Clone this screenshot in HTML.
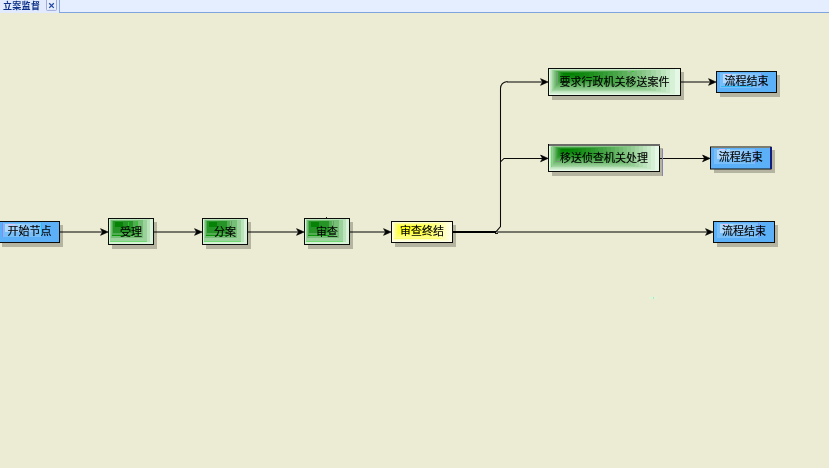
<!DOCTYPE html>
<html lang="zh-CN">
<head>
<meta charset="utf-8">
<title>立案监督</title>
<style>
html,body{margin:0;padding:0;}
body{width:829px;height:468px;overflow:hidden;background:#ececd5;position:relative;
  font-family:"Liberation Sans","Noto Sans CJK SC",sans-serif;}
#tabbar{position:absolute;left:0;top:0;width:829px;height:13px;background:#e1ebfd;}
#tabrest{position:absolute;left:59px;top:0;width:770px;height:13px;background:#e4eefe;
  border-left:1px solid #86a8e4;border-bottom:1px solid #80a4e0;box-sizing:border-box;}
#tabtitle{will-change:transform;position:absolute;left:3px;top:-0.5px;height:12px;line-height:12px;font-size:9px;font-weight:700;letter-spacing:0.3px;color:#0b2f86;white-space:nowrap;}
#tabclose{position:absolute;left:46px;top:0;width:11px;height:12px;}
.node{will-change:transform;position:absolute;box-sizing:border-box;border:1px solid transparent;-webkit-text-stroke:0.15px #000;font-size:11px;font-weight:400;color:#000;text-align:center;white-space:nowrap;
  }
svg{position:absolute;left:0;top:0;}
</style>
</head>
<body>
<div id="tabbar"></div>
<div id="tabrest"></div>
<div id="tabtitle">立案监督</div>
<svg id="tabclose" width="11" height="12" viewBox="0 0 11 12">
  <rect x="0.5" y="-1" width="10" height="11.4" rx="0.8" fill="#e7effd" stroke="#98a4d2" stroke-width="0.9"/>
  <path d="M3.2 3.3L7.8 7.9M7.8 3.3L3.2 7.9" stroke="#2347a5" stroke-width="1.3" fill="none"/>
</svg>

<svg width="829" height="468" viewBox="0 0 829 468" shape-rendering="crispEdges">
  <defs><linearGradient id="bl" x1="0" y1="0" x2="1" y2="0"><stop offset="0" stop-color="#b2d9fc"/><stop offset="0.45" stop-color="#9ccffb"/><stop offset="1" stop-color="#76bef9"/></linearGradient></defs>
  <g fill="#b5b4a1">
    <rect x="2.0" y="224.7" width="61.3" height="22.0"/>
    <rect x="112.0" y="221.7" width="45.3" height="27.0"/>
    <rect x="206.0" y="221.7" width="45.3" height="27.0"/>
    <rect x="308.0" y="221.7" width="45.3" height="27.0"/>
    <rect x="395.0" y="224.7" width="61.3" height="22.0"/>
    <rect x="552.0" y="71.7" width="132.3" height="28.0"/>
    <rect x="552.0" y="147.7" width="111.3" height="28.0"/>
    <rect x="720.0" y="74.7" width="60.3" height="22.0"/>
    <rect x="714.0" y="150.2" width="60.8" height="23.0"/>
    <rect x="717.0" y="224.7" width="61.3" height="22.0"/>
  </g>
  <g fill="none" stroke="#000" stroke-opacity="0.5" stroke-width="2" shape-rendering="auto">
    <path d="M60 232H104"/>
    <path d="M154 232H198"/>
    <path d="M248 232H300"/>
    <path d="M350 232H387"/>
    <path d="M497 232H709"/>
    <path d="M681 82H712"/>
    <path d="M507 82H544"/>
  </g>
  <g fill="none" stroke="#0a0a08" stroke-width="1.05" shape-rendering="auto">
    <path d="M660 158.4H706"/>
    <path d="M495.5 232.3L500.5 226.5V88.5Q500.7 82.3 507.5 81.5"/>
    <path d="M500.5 161.8L504 158.4H544"/>
    <path d="M495 233.4H498"/>
  </g>
  <path d="M453 232H496" fill="none" stroke="#000" stroke-width="2"/>
  <g fill="#000" stroke="#000" stroke-width="0.7" stroke-linejoin="round" shape-rendering="auto">
    <path d="M108.0 232.0l-7.4-3.3l2 3.3l-2 3.3z"/>
    <path d="M202.0 232.0l-7.4-3.3l2 3.3l-2 3.3z"/>
    <path d="M304.0 232.0l-7.4-3.3l2 3.3l-2 3.3z"/>
    <path d="M391.0 232.0l-7.4-3.3l2 3.3l-2 3.3z"/>
    <path d="M713.0 232.0l-7.4-3.3l2 3.3l-2 3.3z"/>
    <path d="M716.0 82.0l-7.4-3.3l2 3.3l-2 3.3z"/>
    <path d="M710.0 158.4l-7.4-3.3l2 3.3l-2 3.3z"/>
    <path d="M548.0 82.0l-7.4-3.3l2 3.3l-2 3.3z"/>
    <path d="M548.0 158.4l-7.4-3.3l2 3.3l-2 3.3z"/>
  </g>
  <g>
    <rect x="326" y="216.6" width="1" height="1.6" fill="#222"/>
    <rect x="649" y="297" width="8" height="2" fill="#e0f4dc"/><rect x="653" y="297" width="1" height="2.4" fill="#a8ecb0"/>
    <g><rect x="-1.0" y="222.0" width="60.0" height="20.0" fill="#5cb0f7"/>
      <rect x="2.4" y="222.6" width="39.2" height="14.8" fill="#78bff9"/>
      <rect x="4.8" y="223.6" width="36.8" height="8.6" fill="url(#bl)"/>
      <rect x="2.0" y="223.2" width="0.8" height="13.6" fill="#8a8af2"/>
      <rect x="41.0" y="223.2" width="0.8" height="12.0" fill="#22c2f2"/>
      <rect x="8.0" y="223.8" width="6.7" height="0.7" fill="#e4c4f4"/>
      <rect x="17.0" y="223.8" width="4.0" height="0.7" fill="#9ce4f6"/>
      <rect x="-1.50" y="221.50" width="61.00" height="21.00" fill="none" stroke="#0c0c0a" stroke-width="1" shape-rendering="crispEdges"/></g>
    <g><rect x="109.0" y="219.0" width="44.0" height="25.0" fill="#d7f2d7"/>
      <rect x="109.6" y="219.3" width="40.5" height="23.0" fill="#bbe3bb"/>
      <rect x="110.1" y="219.7" width="37.0" height="21.0" fill="#9bd29b"/>
      <rect x="111.0" y="220.2" width="31.7" height="18.0" fill="#76bf76"/>
      <rect x="111.8" y="220.7" width="26.4" height="15.0" fill="#52ac52"/>
      <rect x="112.9" y="221.3" width="19.8" height="11.2" fill="#269426"/>
      <rect x="114.6" y="222.4" width="8.8" height="5.0" fill="#068306"/>
      <rect x="111.8" y="234.9" width="20.9" height="1.0" fill="#0c960c"/>
      <rect x="110.1" y="241.0" width="37.0" height="0.8" fill="#70da70"/>
      <rect x="137.4" y="220.7" width="1.0" height="15.0" fill="#28c428"/>
      <rect x="146.5" y="219.7" width="0.9" height="22.1" fill="#70da70"/>
      <rect x="128.0" y="222.0" width="0.8" height="3.5" fill="#28c428"/>
      <rect x="108.50" y="218.50" width="45.00" height="26.00" fill="none" stroke="#0c0c0a" stroke-width="1" shape-rendering="crispEdges"/></g>
    <g><rect x="203.0" y="219.0" width="44.0" height="25.0" fill="#d7f2d7"/>
      <rect x="203.6" y="219.3" width="40.5" height="23.0" fill="#bbe3bb"/>
      <rect x="204.1" y="219.7" width="37.0" height="21.0" fill="#9bd29b"/>
      <rect x="205.0" y="220.2" width="31.7" height="18.0" fill="#76bf76"/>
      <rect x="205.8" y="220.7" width="26.4" height="15.0" fill="#52ac52"/>
      <rect x="206.9" y="221.3" width="19.8" height="11.2" fill="#269426"/>
      <rect x="208.6" y="222.4" width="8.8" height="5.0" fill="#068306"/>
      <rect x="205.8" y="234.9" width="20.9" height="1.0" fill="#0c960c"/>
      <rect x="204.1" y="241.0" width="37.0" height="0.8" fill="#70da70"/>
      <rect x="230.0" y="221.0" width="0.8" height="5.0" fill="#8fae8f"/>
      <rect x="202.50" y="218.50" width="45.00" height="26.00" fill="none" stroke="#0c0c0a" stroke-width="1" shape-rendering="crispEdges"/></g>
    <g><rect x="305.0" y="219.0" width="44.0" height="25.0" fill="#d7f2d7"/>
      <rect x="305.6" y="219.3" width="40.5" height="23.0" fill="#bbe3bb"/>
      <rect x="306.1" y="219.7" width="37.0" height="21.0" fill="#9bd29b"/>
      <rect x="307.0" y="220.2" width="31.7" height="18.0" fill="#76bf76"/>
      <rect x="307.8" y="220.7" width="26.4" height="15.0" fill="#52ac52"/>
      <rect x="308.9" y="221.3" width="19.8" height="11.2" fill="#269426"/>
      <rect x="310.6" y="222.4" width="8.8" height="5.0" fill="#068306"/>
      <rect x="307.8" y="234.9" width="20.9" height="1.0" fill="#0c960c"/>
      <rect x="306.1" y="241.0" width="37.0" height="0.8" fill="#70da70"/>
      <rect x="332.0" y="221.0" width="0.8" height="5.0" fill="#8fae8f"/>
      <rect x="304.50" y="218.50" width="45.00" height="26.00" fill="none" stroke="#0c0c0a" stroke-width="1" shape-rendering="crispEdges"/></g>
    <g><rect x="392.0" y="222.0" width="60.0" height="20.0" fill="#ffffe7"/>
      <rect x="392.7" y="222.3" width="56.2" height="18.8" fill="#ffffd3"/>
      <rect x="393.4" y="222.7" width="52.5" height="17.5" fill="#ffffbf"/>
      <rect x="394.0" y="223.1" width="48.8" height="16.2" fill="#ffffac"/>
      <rect x="394.7" y="223.4" width="45.0" height="15.0" fill="#ffff9a"/>
      <rect x="395.4" y="223.8" width="41.2" height="13.8" fill="#ffff88"/>
      <rect x="396.1" y="224.1" width="37.5" height="12.5" fill="#ffff77"/>
      <rect x="396.7" y="224.4" width="33.8" height="11.2" fill="#ffff68"/>
      <rect x="397.4" y="224.8" width="30.0" height="10.0" fill="#ffff59"/>
      <rect x="398.1" y="225.2" width="26.2" height="8.8" fill="#ffff4b"/>
      <rect x="398.8" y="225.5" width="22.5" height="7.5" fill="#ffff3e"/>
      <rect x="399.4" y="225.8" width="18.8" height="6.2" fill="#ffff32"/>
      <rect x="400.1" y="226.2" width="15.0" height="5.0" fill="#ffff27"/>
      <rect x="400.8" y="226.5" width="11.2" height="3.8" fill="#ffff1e"/>
      <rect x="401.4" y="226.9" width="7.5" height="2.5" fill="#ffff16"/>
      <rect x="402.1" y="227.2" width="3.8" height="1.2" fill="#ffff11"/>
      <rect x="394.0" y="238.2" width="47.0" height="0.8" fill="#ffff6a"/>
      <rect x="391.50" y="221.50" width="61.00" height="21.00" fill="none" stroke="#0c0c0a" stroke-width="1" shape-rendering="crispEdges"/></g>
    <g><rect x="549.0" y="69.0" width="131.0" height="26.0" fill="#e5f8e5"/>
      <rect x="549.7" y="69.2" width="125.5" height="24.9" fill="#d7f1d7"/>
      <rect x="550.3" y="69.4" width="120.1" height="23.8" fill="#c9eac9"/>
      <rect x="551.0" y="69.6" width="114.6" height="22.8" fill="#bce3bc"/>
      <rect x="551.6" y="69.7" width="109.2" height="21.7" fill="#afdcaf"/>
      <rect x="552.3" y="69.9" width="103.7" height="20.6" fill="#a2d5a2"/>
      <rect x="552.9" y="70.1" width="98.2" height="19.5" fill="#95ce95"/>
      <rect x="553.6" y="70.3" width="92.8" height="18.4" fill="#89c889"/>
      <rect x="554.2" y="70.5" width="87.3" height="17.3" fill="#7dc27d"/>
      <rect x="554.9" y="70.7" width="81.9" height="16.2" fill="#72bc72"/>
      <rect x="555.5" y="70.8" width="76.4" height="15.2" fill="#66b666"/>
      <rect x="556.2" y="71.0" width="71.0" height="14.1" fill="#5cb05c"/>
      <rect x="556.9" y="71.2" width="65.5" height="13.0" fill="#51ab51"/>
      <rect x="557.5" y="71.4" width="60.0" height="11.9" fill="#47a547"/>
      <rect x="558.2" y="71.6" width="54.6" height="10.8" fill="#3ea03e"/>
      <rect x="558.8" y="71.8" width="49.1" height="9.8" fill="#349c34"/>
      <rect x="559.5" y="71.9" width="43.7" height="8.7" fill="#2c972c"/>
      <rect x="560.1" y="72.1" width="38.2" height="7.6" fill="#249324"/>
      <rect x="560.8" y="72.3" width="32.8" height="6.5" fill="#1c8f1c"/>
      <rect x="561.4" y="72.5" width="27.3" height="5.4" fill="#158b15"/>
      <rect x="562.1" y="72.7" width="21.8" height="4.3" fill="#0e880e"/>
      <rect x="562.8" y="72.9" width="16.4" height="3.2" fill="#098509"/>
      <rect x="563.4" y="73.1" width="10.9" height="2.2" fill="#048204"/>
      <rect x="564.1" y="73.2" width="5.5" height="1.1" fill="#018001"/>
      <rect x="557.0" y="71.5" width="0.7" height="13.0" fill="#7f967f"/>
      <rect x="632.0" y="70.9" width="2.0" height="0.9" fill="#30d030"/>
      <rect x="628.3" y="70.9" width="1.7" height="0.9" fill="#8fa48f"/>
      <rect x="548.50" y="68.50" width="132.00" height="27.00" fill="none" stroke="#0c0c0a" stroke-width="1" shape-rendering="crispEdges"/></g>
    <g><rect x="549.0" y="145.0" width="110.0" height="26.0" fill="#e5f8e5"/>
      <rect x="549.5" y="145.2" width="105.4" height="24.9" fill="#d7f1d7"/>
      <rect x="550.1" y="145.4" width="100.8" height="23.8" fill="#c9eac9"/>
      <rect x="550.6" y="145.6" width="96.2" height="22.8" fill="#bce3bc"/>
      <rect x="551.2" y="145.7" width="91.7" height="21.7" fill="#afdcaf"/>
      <rect x="551.8" y="145.9" width="87.1" height="20.6" fill="#a2d5a2"/>
      <rect x="552.3" y="146.1" width="82.5" height="19.5" fill="#95ce95"/>
      <rect x="552.9" y="146.3" width="77.9" height="18.4" fill="#89c889"/>
      <rect x="553.4" y="146.5" width="73.3" height="17.3" fill="#7dc27d"/>
      <rect x="554.0" y="146.7" width="68.8" height="16.2" fill="#72bc72"/>
      <rect x="554.5" y="146.8" width="64.2" height="15.2" fill="#66b666"/>
      <rect x="555.1" y="147.0" width="59.6" height="14.1" fill="#5cb05c"/>
      <rect x="555.6" y="147.2" width="55.0" height="13.0" fill="#51ab51"/>
      <rect x="556.1" y="147.4" width="50.4" height="11.9" fill="#47a547"/>
      <rect x="556.7" y="147.6" width="45.8" height="10.8" fill="#3ea03e"/>
      <rect x="557.2" y="147.8" width="41.2" height="9.8" fill="#349c34"/>
      <rect x="557.8" y="147.9" width="36.7" height="8.7" fill="#2c972c"/>
      <rect x="558.4" y="148.1" width="32.1" height="7.6" fill="#249324"/>
      <rect x="558.9" y="148.3" width="27.5" height="6.5" fill="#1c8f1c"/>
      <rect x="559.5" y="148.5" width="22.9" height="5.4" fill="#158b15"/>
      <rect x="560.0" y="148.7" width="18.3" height="4.3" fill="#0e880e"/>
      <rect x="560.6" y="148.9" width="13.8" height="3.2" fill="#098509"/>
      <rect x="561.1" y="149.1" width="9.2" height="2.2" fill="#048204"/>
      <rect x="561.7" y="149.2" width="4.6" height="1.1" fill="#018001"/>
      <rect x="551.2" y="166.6" width="90.8" height="0.8" fill="#74da74"/>
      <rect x="551.2" y="147.0" width="0.8" height="20.4" fill="#74da74"/>
      <rect x="555.5" y="161.0" width="5.0" height="0.8" fill="#7d957d"/>
      <rect x="662.4" y="149.0" width="0.9" height="26.5" fill="#8484ae"/>
      <rect x="548.50" y="144.50" width="111.00" height="27.00" fill="none" stroke="#0c0c0a" stroke-width="1" shape-rendering="crispEdges"/>
      <rect x="548.6" y="144.0" width="111.4" height="2.0" fill="#6c6c68"/></g>
    <g><rect x="717.0" y="72.0" width="59.0" height="20.0" fill="#5cb0f7"/>
      <rect x="720.4" y="73.4" width="41.0" height="15.0" fill="#78bff9"/>
      <rect x="723.0" y="74.4" width="38.4" height="8.8" fill="url(#bl)"/>
      <rect x="761.0" y="73.4" width="0.8" height="14.0" fill="#8a8af2"/>
      <rect x="725.0" y="73.8" width="6.0" height="0.7" fill="#e4c4f4"/>
      <rect x="733.0" y="73.8" width="3.0" height="0.7" fill="#9ce4f6"/>
      <rect x="721.0" y="86.2" width="31.0" height="0.7" fill="#30baf4"/>
      <rect x="716.50" y="71.50" width="60.00" height="21.00" fill="none" stroke="#0c0c0a" stroke-width="1" shape-rendering="crispEdges"/></g>
    <g><rect x="711.0" y="147.5" width="59.5" height="21.0" fill="#5cb0f7"/>
      <rect x="714.4" y="148.9" width="41.0" height="15.0" fill="#78bff9"/>
      <rect x="717.0" y="149.9" width="38.4" height="8.8" fill="url(#bl)"/>
      <rect x="755.0" y="148.9" width="0.8" height="14.0" fill="#8a8af2"/>
      <rect x="719.0" y="149.3" width="6.0" height="0.7" fill="#e4c4f4"/>
      <rect x="727.0" y="149.3" width="3.0" height="0.7" fill="#9ce4f6"/>
      <rect x="710.50" y="147.00" width="60.50" height="22.00" fill="none" stroke="#0c0c0a" stroke-width="1" shape-rendering="auto"/>
      <rect x="770.3" y="147.3" width="1.2" height="21.7" fill="#141c7c"/></g>
    <g><rect x="714.0" y="222.0" width="60.0" height="20.0" fill="#5cb0f7"/>
      <rect x="717.4" y="223.4" width="41.0" height="15.0" fill="#78bff9"/>
      <rect x="720.0" y="224.4" width="38.4" height="8.8" fill="url(#bl)"/>
      <rect x="758.0" y="223.4" width="0.8" height="14.0" fill="#8a8af2"/>
      <rect x="722.0" y="223.8" width="6.0" height="0.7" fill="#e4c4f4"/>
      <rect x="730.0" y="223.8" width="3.0" height="0.7" fill="#9ce4f6"/>
      <rect x="713.50" y="221.50" width="61.00" height="21.00" fill="none" stroke="#0c0c0a" stroke-width="1" shape-rendering="crispEdges"/></g>
  </g>
</svg>

<div class="node" style="left:-2px;top:221px;width:62px;height:22px;line-height:19px;padding-left:1px;">开始节点</div>
<div class="node" style="left:108px;top:218px;width:46px;height:27px;line-height:26px;">受理</div>
<div class="node" style="left:202px;top:218px;width:46px;height:27px;line-height:26px;">分案</div>
<div class="node" style="left:304px;top:218px;width:46px;height:27px;line-height:26px;">审查</div>
<div class="node" style="left:391px;top:221px;width:62px;height:22px;line-height:19px;">审查终结</div>
<div class="node" style="left:548px;top:68px;width:133px;height:28px;line-height:26px;">要求行政机关移送案件</div>
<div class="node" style="left:548px;top:144px;width:112px;height:28px;line-height:26px;">移送侦查机关处理</div>
<div class="node" style="left:716px;top:71px;width:61px;height:22px;line-height:19px;">流程结束</div>
<div class="node" style="left:710px;top:146.5px;width:61.5px;height:23px;line-height:18px;">流程结束</div>
<div class="node" style="left:713px;top:221px;width:62px;height:22px;line-height:19px;">流程结束</div>
</body>
</html>
